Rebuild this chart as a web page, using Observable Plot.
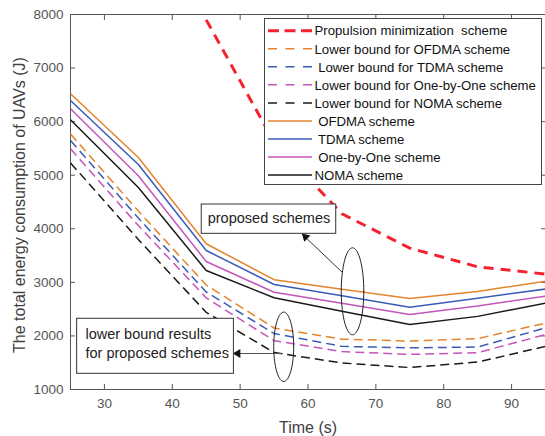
<!DOCTYPE html>
<html><head><meta charset="utf-8">
<script src="https://cdn.jsdelivr.net/npm/d3@7"></script>
<script src="https://cdn.jsdelivr.net/npm/@observablehq/plot@0.6"></script>
<style>
body{margin:0;background:#fff}
#chart{width:545px;height:436px}
</style>
</head><body><div id="chart"></div>
<script>
// ---- data ----
const time = [25, 35, 45, 55, 65, 75, 85, 95];
const propulsionTime = [45, 55, 65, 75, 85, 95];
const propulsion = [7900, 5620, 4280, 3640, 3290, 3155];
const lbOfdma    = [5770, 4330, 2950, 2148, 1940, 1905, 1950, 2240];
const lbTdma     = [5650, 4200, 2820, 2045, 1805, 1778, 1792, 2150];
const lbOneByOne = [5495, 4060, 2710, 1912, 1708, 1655, 1688, 2025];
const lbNoma     = [5230, 3800, 2440, 1690, 1495, 1410, 1512, 1805];
const ofdma      = [6520, 5330, 3720, 3050, 2870, 2700, 2830, 3020];
const tdma       = [6395, 5200, 3595, 2960, 2750, 2535, 2705, 2875];
const oneByOne   = [6240, 4990, 3390, 2815, 2610, 2400, 2560, 2740];
const noma       = [6034, 4770, 3221, 2712, 2460, 2215, 2365, 2612];
const xTicks = [30, 40, 50, 60, 70, 80, 90];
const yTicks = [1000, 2000, 3000, 4000, 5000, 6000, 7000, 8000];
const legendLabels = [
  "Propulsion minimization  scheme",
  "Lower bound for OFDMA scheme",
  " Lower bound for TDMA scheme",
  "Lower bound for One-by-One scheme",
  "Lower bound for NOMA scheme",
  " OFDMA scheme",
  " TDMA scheme",
  " One-by-One scheme",
  "NOMA scheme"
];
const annotationText1 = "proposed schemes";
const annotationText2 = ["lower bound results", "for proposed schemes"];

// ---- styles ----
const C = {red: "#f5222d", orange: "#e4842c", blue: "#3a5cb8", pink: "#c455bb", black: "#1a1a1a"};
const series = [
  {label: legendLabels[0], t: propulsionTime, v: propulsion, color: C.red, width: 3, dash: "10,7"},
  {label: legendLabels[1], t: time, v: lbOfdma, color: C.orange, width: 1.5, dash: "9,5"},
  {label: legendLabels[2], t: time, v: lbTdma, color: C.blue, width: 1.5, dash: "9,5"},
  {label: legendLabels[3], t: time, v: lbOneByOne, color: C.pink, width: 1.5, dash: "9,5"},
  {label: legendLabels[4], t: time, v: lbNoma, color: C.black, width: 1.5, dash: "9,5"},
  {label: legendLabels[5], t: time, v: ofdma, color: C.orange, width: 1.5, dash: null},
  {label: legendLabels[6], t: time, v: tdma, color: C.blue, width: 1.5, dash: null},
  {label: legendLabels[7], t: time, v: oneByOne, color: C.pink, width: 1.5, dash: null},
  {label: legendLabels[8], t: time, v: noma, color: C.black, width: 1.5, dash: null}
];

function rows(s) { return s.t.map((t, i) => ({t, v: s.v[i]})); }
function ellipse(cx, cy, rx, ry) {
  return d3.range(0, 73).map(k => {
    const a = k / 72 * 2 * Math.PI;
    return {t: cx + rx * Math.cos(a), v: cy + ry * Math.sin(a)};
  });
}

const font = "'Liberation Sans', Arial, Helvetica, sans-serif";
const axisColor = "#555";

const lineMarks = series.slice(1).concat(series.slice(0, 1)).map(s =>
  Plot.line(rows(s), {x: "t", y: "v", stroke: s.color, strokeWidth: s.width,
    strokeDasharray: s.dash || undefined, strokeLinejoin: "miter", strokeLinecap: "butt"})
);

const chart = Plot.plot({
  width: 545, height: 436,
  marginLeft: 70, marginRight: 0, marginTop: 14, marginBottom: 47,
  x: {domain: [25, 95]},
  y: {domain: [1000, 8000]},
  style: {fontFamily: font, fontSize: "13.5px", background: "#fff", color: "#404040", overflow: "visible"},
  marks: [
    Plot.frame({stroke: axisColor}),
    Plot.axisX({ticks: xTicks, tickSize: 5, dy: -5, tickPadding: 9, label: null, color: axisColor, tickFormat: d3.format("d")}),
    Plot.axisX({anchor: "top", ticks: xTicks, tickSize: 5, dy: 5, tickFormat: () => "", label: null, color: axisColor}),
    Plot.axisY({ticks: yTicks, tickSize: 5, dx: 5, tickPadding: 7, label: null, color: axisColor, tickFormat: d3.format("d")}),
    Plot.axisY({anchor: "right", ticks: yTicks, tickSize: 5, dx: -5, tickFormat: () => "", label: null, color: axisColor}),
    Plot.text(["The total energy consumption of UAVs (J)"], {frameAnchor: "left", dx: -51, dy: 3, rotate: -90, fontSize: 16, fill: "#404040", textAnchor: "middle", lineAnchor: "middle"}),
    Plot.text(["Time (s)"], {frameAnchor: "bottom", dy: 38, fontSize: 16, fill: "#404040", textAnchor: "middle", lineAnchor: "middle"}),
    ...lineMarks,
    // annotation: proposed schemes
    Plot.line(ellipse(66.56, 2833, 1.66, 812), {x: "t", y: "v", stroke: "#222", strokeWidth: 1}),
    Plot.link([{x1: 65.03, y1: 3190, x2: 59.3, y2: 3880}], {x1: "x1", y1: "y1", x2: "x2", y2: "y2", stroke: "#333", strokeWidth: 1}),
    Plot.dot([{x: 59.16, y: 3906}], {x: "x", y: "y", symbol: "triangle2", r: 4.2, fill: "#111", stroke: "none", rotate: -46, dx: 3.2, dy: 3.1}),
    Plot.rect([{x1: 44.34, x2: 64.16, y1: 3906, y2: 4453}], {x1: "x1", x2: "x2", y1: "y1", y2: "y2", fill: "#fff", stroke: "#333", strokeWidth: 1}),
    Plot.text([annotationText1], {x: 54.25, y: 4186, fontSize: 14.5, fill: "#222", lineAnchor: "middle"}),
    // annotation: lower bound results
    Plot.line(ellipse(56.42, 1797, 1.47, 648), {x: "t", y: "v", stroke: "#222", strokeWidth: 1}),
    Plot.link([{x1: 56.32, y1: 1672, x2: 49.5, y2: 1672}], {x1: "x1", y1: "y1", x2: "x2", y2: "y2", stroke: "#555", strokeWidth: 1}),
    Plot.dot([{x: 49.0, y: 1672}], {x: "x", y: "y", symbol: "triangle2", r: 4.2, fill: "#111", stroke: "none", rotate: -90, dx: 4.5}),
    Plot.rect([{x1: 25.98, x2: 49.08, y1: 1293, y2: 2320}], {x1: "x1", x2: "x2", y1: "y1", y2: "y2", fill: "#fff", stroke: "#333", strokeWidth: 1}),
    Plot.text([annotationText2[0]], {x: 27.2, y: 2021, textAnchor: "start", fontSize: 14.5, fill: "#222", lineAnchor: "middle"}),
    Plot.text([annotationText2[1]], {x: 27.2, y: 1678, textAnchor: "start", fontSize: 14.5, fill: "#222", lineAnchor: "middle"})
  ]
});

// ---- legend (inside the axes, top right) ----
const svg = d3.select(chart);
const lg = svg.append("g").attr("text-anchor", "start");
lg.append("rect").attr("x", 264.5).attr("y", 18.5).attr("width", 277).attr("height", 166)
  .attr("fill", "#fff").attr("stroke", "#444").attr("stroke-width", 1);
series.forEach((s, i) => {
  const y = 30.7 + 18.05 * i;
  lg.append("line").attr("x1", 268).attr("x2", 312).attr("y1", y).attr("y2", y)
    .attr("stroke", s.color).attr("stroke-width", s.width)
    .attr("stroke-dasharray", s.dash ? (i === 0 ? "11,5.5" : "9,8.5") : null);
  lg.append("text").attr("x", 314.5).attr("y", y).attr("dy", "0.36em")
    .attr("text-anchor", "start").attr("fill", "#111")
    .style("font-family", font).style("font-size", "13.2px").style("white-space", "pre")
    .text(s.label);
});

document.getElementById("chart").appendChild(chart);
</script>
</body></html>
